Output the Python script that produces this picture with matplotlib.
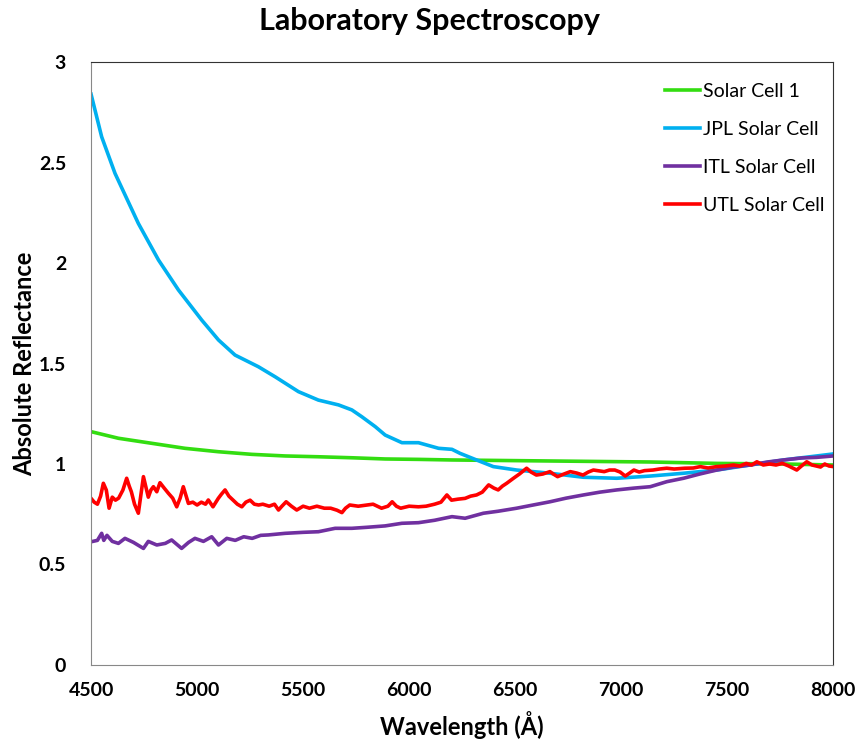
import matplotlib.pyplot as plt
import numpy as np

plt.rcParams['font.family'] = ['Lato', 'DejaVu Sans']

# wavelength (Angstrom) / absolute reflectance
solar1_x = [4500, 4629, 4786, 4943, 5101, 5258, 5415, 5572, 5730, 5887,
            6044, 6202, 6664, 7137, 7451, 7765, 8000]
solar1_y = [1.161, 1.128, 1.103, 1.078, 1.061, 1.048, 1.040, 1.036, 1.031,
            1.025, 1.023, 1.020, 1.015, 1.010, 1.003, 1.000, 0.995]

jpl_x = [4500, 4550, 4613, 4723, 4818, 4912, 5022, 5101, 5179, 5289, 5368,
         5478, 5572, 5667, 5730, 5777, 5840, 5887, 5966, 6044, 6139, 6202,
         6240, 6318, 6397, 6507, 6664, 6822, 6979, 7137, 7294, 7451, 7608,
         7765, 7922, 8000]
jpl_y = [2.84, 2.628, 2.446, 2.197, 2.015, 1.866, 1.716, 1.617, 1.542, 1.484,
         1.434, 1.360, 1.318, 1.294, 1.269, 1.235, 1.186, 1.144, 1.106, 1.106,
         1.078, 1.073, 1.053, 1.020, 0.987, 0.970, 0.954, 0.934, 0.929, 0.940,
         0.954, 0.970, 0.995, 1.020, 1.040, 1.050]

itl_x = [4500, 4530, 4550, 4560, 4575, 4600, 4629, 4660, 4700, 4747, 4770,
         4810, 4850, 4880, 4927, 4960, 4990, 5030, 5069, 5101, 5140, 5180,
         5220, 5260, 5300, 5336, 5415, 5500, 5572, 5651, 5730, 5800, 5887,
         5966, 6044, 6120, 6202, 6264, 6350, 6420, 6507, 6580, 6664, 6740,
         6822, 6900, 6979, 7060, 7137, 7215, 7294, 7370, 7451, 7530, 7608,
         7690, 7765, 7850, 7922, 8000]
itl_y = [0.613, 0.62, 0.655, 0.62, 0.645, 0.615, 0.605, 0.63, 0.61, 0.58,
         0.615, 0.597, 0.605, 0.622, 0.58, 0.61, 0.630, 0.615, 0.638, 0.597,
         0.63, 0.62, 0.638, 0.63, 0.645, 0.647, 0.655, 0.66, 0.663, 0.68,
         0.68, 0.685, 0.692, 0.705, 0.708, 0.72, 0.738, 0.73, 0.755, 0.765,
         0.78, 0.795, 0.812, 0.83, 0.846, 0.86, 0.871, 0.88, 0.887, 0.912,
         0.929, 0.95, 0.970, 0.985, 0.995, 1.01, 1.02, 1.03, 1.033, 1.04]

utl_x = [4500, 4515, 4530, 4545, 4558, 4572, 4585, 4600, 4615, 4630, 4650,
         4668, 4680, 4690, 4705, 4723, 4737, 4747, 4760, 4770, 4782, 4794,
         4810, 4825, 4845, 4865, 4885, 4904, 4920, 4935, 4959, 4980, 5000,
         5020, 5040, 5053, 5075, 5100, 5115, 5132, 5150, 5170, 5190, 5211,
         5230, 5250, 5270, 5290, 5310, 5340, 5365, 5384, 5400, 5420, 5445,
         5470, 5500, 5530, 5565, 5600, 5630, 5660, 5683, 5700, 5720, 5760,
         5800, 5830, 5870, 5900, 5920, 5940, 5960, 6000, 6044, 6080, 6120,
         6150, 6178, 6200, 6230, 6264, 6290, 6318, 6345, 6375, 6400, 6420,
         6440, 6460, 6492, 6520, 6554, 6575, 6600, 6630, 6664, 6680, 6700,
         6730, 6760, 6790, 6820, 6845, 6869, 6900, 6920, 6945, 6970, 6995,
         7019, 7040, 7060, 7085, 7110, 7150, 7180, 7215, 7250, 7300, 7340,
         7373, 7410, 7450, 7490, 7530, 7560, 7590, 7615, 7640, 7670, 7700,
         7730, 7760, 7790, 7828, 7850, 7875, 7900, 7920, 7940, 7960, 7980,
         8000]
utl_y = [0.829, 0.81, 0.80, 0.84, 0.904, 0.87, 0.78, 0.835, 0.82, 0.83,
         0.87, 0.929, 0.89, 0.862, 0.80, 0.755, 0.86, 0.937, 0.88, 0.835,
         0.87, 0.887, 0.862, 0.907, 0.88, 0.854, 0.83, 0.787, 0.83, 0.887,
         0.804, 0.81, 0.796, 0.81, 0.80, 0.821, 0.787, 0.829, 0.85, 0.871,
         0.84, 0.82, 0.80, 0.787, 0.81, 0.82, 0.80, 0.796, 0.80, 0.79, 0.80,
         0.771, 0.79, 0.812, 0.79, 0.771, 0.79, 0.78, 0.79, 0.78, 0.78, 0.77,
         0.758, 0.78, 0.796, 0.79, 0.796, 0.80, 0.78, 0.79, 0.812, 0.79,
         0.78, 0.79, 0.787, 0.79, 0.80, 0.81, 0.846, 0.82, 0.825, 0.829,
         0.84, 0.846, 0.86, 0.896, 0.88, 0.871, 0.89, 0.904, 0.929, 0.95,
         0.979, 0.96, 0.945, 0.95, 0.962, 0.95, 0.937, 0.95, 0.962, 0.955,
         0.945, 0.96, 0.970, 0.965, 0.962, 0.97, 0.970, 0.96, 0.940, 0.955,
         0.970, 0.96, 0.967, 0.97, 0.975, 0.979, 0.975, 0.979, 0.98, 0.987,
         0.98, 0.987, 0.99, 0.995, 0.99, 1.003, 0.995, 1.011, 0.995, 1.0,
         0.995, 1.003, 0.99, 0.970, 0.99, 1.011, 0.995, 0.99, 0.985, 1.0,
         0.99, 0.987]

series = [
    ("Solar Cell 1", solar1_x, solar1_y, "#33dd11"),
    ("JPL Solar Cell", jpl_x, jpl_y, "#00b0f0"),
    ("ITL Solar Cell", itl_x, itl_y, "#7030a0"),
    ("UTL Solar Cell", utl_x, utl_y, "#ff0000"),
]

fig = plt.figure(figsize=(8.59, 7.42), dpi=100)
ax = fig.add_axes([0.106, 0.1038, 0.864, 0.8126])

for label, x, y, color in series:
    ax.plot(x, y, color=color, lw=2.6, label=label, solid_joinstyle='round')

ax.set_xlim(4500, 8000)
ax.set_ylim(0, 3)
ax.set_xticks(np.arange(4500, 8001, 500))
ax.set_yticks([0, 0.5, 1, 1.5, 2, 2.5, 3])
ax.set_yticklabels(['0', '0.5', '1', '1.5', '2', '2.5', '3'])
ax.tick_params(length=0, labelsize=14)
ax.tick_params(axis='x', pad=12)
ax.tick_params(axis='y', pad=18)
for lbl in ax.get_xticklabels() + ax.get_yticklabels():
    lbl.set_fontweight('bold')

for side in ('left', 'bottom'):
    ax.spines[side].set_color('#888888')
for side in ('top', 'right'):
    ax.spines[side].set_color('#333333')

ax.set_xlabel("Wavelength (Å)", fontsize=17, fontweight='bold', labelpad=9)
ax.set_ylabel("Absolute Reflectance", fontsize=17, fontweight='bold', labelpad=2)
fig.suptitle("Laboratory Spectroscopy", fontsize=22, fontweight='bold', y=0.99)

ax.legend(loc='upper right', bbox_to_anchor=(1.012, 0.995), frameon=False,
          fontsize=14, handlelength=1.8, handletextpad=0.15, labelspacing=1.08)

fig.savefig("out.png", dpi=100)
